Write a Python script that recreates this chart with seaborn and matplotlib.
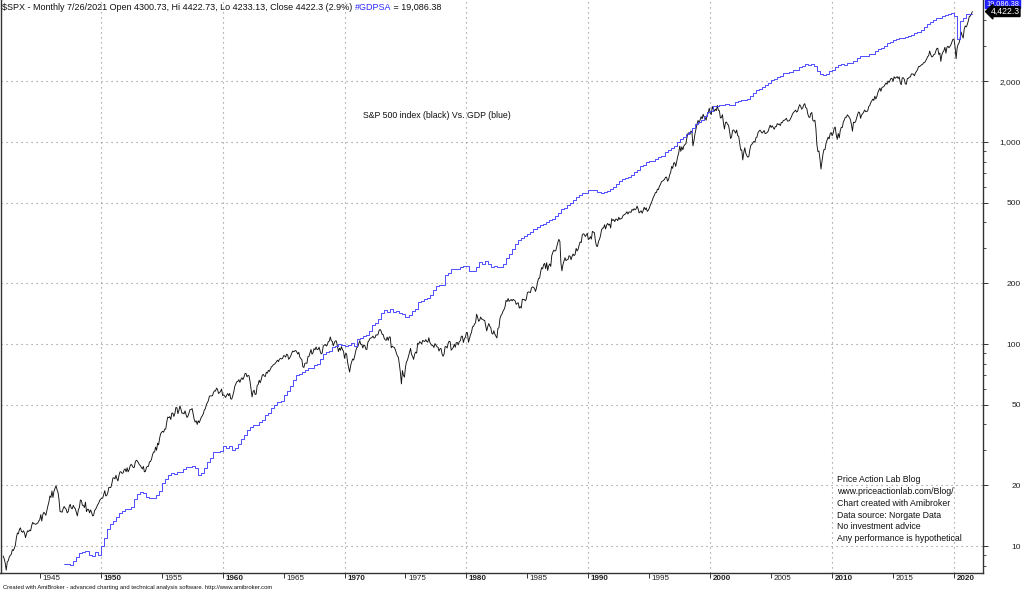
import numpy as np
import matplotlib
matplotlib.use("Agg")
import matplotlib.pyplot as plt
import matplotlib.transforms as mtransforms
from matplotlib.ticker import FixedLocator, FuncFormatter, NullFormatter, NullLocator
import seaborn as sns

# ---------------- data ----------------
# S&P 500 monthly closes, Jan 1942 .. Jul 2021
spx_1940s = [
    8.93, 8.65, 8.24, 7.60, 8.33, 8.46, 8.82, 9.00, 9.10, 9.60, 9.50, 9.77,
    10.1, 11.0, 11.6, 11.5, 12.1, 12.3, 11.8, 11.7, 11.9, 11.6, 11.0, 11.5,
    11.9, 11.8, 12.0, 11.9, 12.6, 13.1, 12.9, 12.9, 12.8, 12.9, 13.0, 13.3,
    13.5, 14.3, 13.3, 14.3, 14.7, 14.5, 14.2, 15.0, 15.8, 16.5, 17.7, 17.4,
    18.7, 17.4, 18.7, 19.3, 19.9, 19.0, 18.4, 16.9, 14.8, 14.8, 14.7, 15.3,
    15.7, 15.4, 15.2, 14.6, 14.8, 15.7, 16.1, 15.4, 15.3, 15.9, 15.5, 15.3,
    14.7, 14.1, 15.1, 15.5, 16.9, 16.8, 15.9, 15.9, 15.5, 16.5, 14.8, 15.2,
    15.2, 14.6, 15.1, 14.7, 14.1, 14.2, 15.0, 15.2, 15.6, 16.0, 16.3, 16.8,
]
spx_1950s = [
    17.1, 17.2, 17.3, 18.0, 18.8, 17.7, 17.8, 18.4, 19.5, 19.5, 19.5, 20.4,
    21.7, 21.8, 21.5, 22.4, 21.5, 21.0, 22.4, 23.3, 23.3, 22.9, 23.0, 23.8,
    24.1, 23.3, 24.4, 23.3, 23.9, 24.96, 25.4, 25.0, 24.5, 24.5, 26.0, 26.6,
    26.4, 25.9, 25.3, 25.0, 24.5, 24.1, 24.8, 23.3, 23.4, 24.5, 24.8, 24.8,
    26.1, 26.2, 26.9, 28.3, 29.2, 29.2, 30.9, 29.8, 32.3, 31.7, 34.2, 35.98,
    36.6, 37.0, 36.6, 37.96, 37.9, 41.0, 43.5, 43.2, 43.7, 42.3, 45.5, 45.5,
    43.8, 45.3, 48.5, 48.4, 45.2, 46.97, 49.4, 47.5, 45.4, 45.6, 45.1, 46.7,
    44.7, 43.3, 44.1, 45.7, 47.4, 47.4, 47.9, 45.2, 42.4, 41.1, 41.7, 39.99,
    41.7, 40.8, 42.1, 43.4, 44.1, 45.2, 47.2, 47.8, 50.1, 51.3, 52.5, 55.2,
    55.4, 55.4, 55.4, 57.6, 58.7, 58.5, 60.5, 59.6, 56.9, 57.5, 58.3, 59.9,
]
spx_1960s = [
    55.6, 56.1, 55.3, 54.4, 55.8, 56.9, 55.5, 56.96, 53.5, 53.4, 55.5, 58.1,
    61.8, 63.4, 65.1, 65.3, 66.6, 64.6, 66.8, 68.1, 66.7, 68.6, 71.3, 71.6,
    68.8, 69.96, 69.6, 65.2, 59.6, 54.75, 58.2, 59.1, 56.3, 56.5, 62.3, 63.1,
    66.2, 64.3, 66.6, 70.0, 70.8, 69.4, 69.1, 72.5, 71.7, 74.0, 73.2, 75.0,
    77.0, 77.8, 78.98, 79.5, 80.4, 81.7, 83.2, 81.8, 84.2, 84.9, 84.4, 84.75,
    87.6, 87.4, 86.2, 89.1, 88.4, 84.1, 85.3, 87.2, 89.96, 92.4, 91.6, 92.4,
    92.9, 91.2, 89.2, 91.1, 86.1, 84.7, 83.6, 77.1, 76.6, 80.2, 80.5, 80.3,
    86.6, 86.8, 90.2, 94.0, 89.1, 90.6, 94.8, 93.6, 96.7, 93.9, 94.0, 96.5,
    92.2, 89.4, 90.2, 97.6, 98.7, 99.6, 97.7, 98.9, 102.7, 103.4, 108.4, 103.9,
    103.0, 98.1, 101.5, 103.7, 103.5, 97.7, 91.8, 95.5, 93.1, 97.1, 93.8, 92.1,
]
spx_1970s = [
    85.0, 89.5, 89.6, 81.5, 76.6, 72.7, 78.1, 81.5, 84.3, 83.3, 87.2, 92.2,
    95.9, 96.8, 100.3, 103.9, 99.6, 99.7, 95.6, 99.0, 98.3, 94.2, 93.99, 102.1,
    103.9, 106.6, 107.2, 107.7, 109.5, 107.1, 107.4, 111.1, 110.6, 111.6, 116.7, 118.1,
    116.0, 111.7, 111.5, 106.97, 104.95, 104.3, 108.2, 104.25, 108.4, 108.3, 95.96, 97.55,
    96.6, 96.2, 93.98, 90.3, 87.3, 86.0, 79.3, 72.15, 63.5, 73.9, 69.97, 68.56,
    76.98, 81.6, 83.4, 87.3, 91.15, 95.2, 88.75, 86.9, 83.9, 89.0, 91.2, 90.2,
    100.9, 99.7, 102.8, 101.6, 100.2, 104.3, 103.4, 102.9, 105.2, 102.9, 102.1, 107.5,
    102.0, 99.8, 98.4, 98.4, 96.1, 100.5, 98.85, 96.8, 96.5, 92.3, 94.8, 95.1,
    89.25, 87.0, 89.2, 97.0, 97.2, 95.5, 100.7, 103.3, 102.5, 93.2, 94.7, 96.1,
    99.9, 96.3, 101.6, 101.8, 99.1, 102.9, 103.8, 109.3, 109.3, 101.8, 106.2, 107.9,
]
spx_1980s = [
    114.2, 113.7, 102.1, 106.3, 111.2, 114.2, 121.7, 122.4, 125.5, 127.5, 140.5, 135.8,
    129.6, 131.3, 136.0, 132.8, 132.6, 131.2, 130.9, 122.8, 116.2, 121.9, 126.35, 122.55,
    120.4, 113.1, 111.96, 116.4, 111.9, 109.6, 107.1, 119.5, 120.4, 133.7, 138.5, 140.6,
    145.3, 148.1, 152.96, 164.4, 162.4, 168.1, 162.6, 164.4, 166.1, 163.6, 166.4, 164.9,
    163.4, 157.1, 159.2, 160.05, 150.55, 153.2, 150.7, 166.7, 166.1, 166.1, 163.6, 167.2,
    179.6, 181.2, 180.7, 179.8, 189.55, 191.85, 190.9, 188.6, 182.1, 189.8, 202.2, 211.3,
    211.8, 226.9, 238.9, 235.5, 247.35, 250.8, 236.1, 252.9, 231.3, 243.98, 249.2, 242.2,
    274.1, 284.2, 291.7, 288.4, 290.1, 304.0, 318.7, 329.8, 321.8, 251.8, 230.3, 247.1,
    257.1, 267.8, 258.9, 261.3, 262.2, 273.5, 272.0, 261.5, 271.9, 278.97, 273.7, 277.7,
    297.5, 288.9, 294.9, 309.6, 320.5, 317.98, 346.1, 351.45, 349.15, 340.4, 345.99, 353.4,
]
spx_1990s = [
    329.1, 331.9, 339.9, 330.8, 361.2, 358.0, 356.2, 322.6, 306.05, 304.0, 322.2, 330.2,
    343.9, 367.1, 375.2, 375.3, 389.8, 371.2, 387.8, 395.4, 387.9, 392.5, 375.2, 417.1,
    408.8, 412.7, 403.7, 414.95, 415.35, 408.1, 424.2, 414.0, 417.8, 418.7, 431.35, 435.7,
    438.8, 443.4, 451.7, 440.2, 450.2, 450.5, 448.1, 463.6, 458.9, 467.8, 461.8, 466.45,
    481.6, 467.1, 445.8, 450.9, 456.5, 444.3, 458.3, 475.5, 462.7, 472.35, 453.7, 459.3,
    470.4, 487.4, 500.7, 514.7, 533.4, 544.75, 562.1, 561.9, 584.4, 581.5, 605.4, 615.9,
    636.0, 640.4, 645.5, 654.2, 669.1, 670.6, 639.95, 651.99, 687.3, 705.3, 757.0, 740.7,
    786.2, 791.0, 757.1, 801.3, 848.3, 885.1, 954.3, 899.5, 947.3, 914.6, 955.4, 970.4,
    980.3, 1049.3, 1101.75, 1111.75, 1090.8, 1133.8, 1120.7, 957.3, 1017.0, 1098.7, 1163.6, 1229.2,
    1279.6, 1238.3, 1286.4, 1335.2, 1301.8, 1372.7, 1328.7, 1320.4, 1282.7, 1362.9, 1388.9, 1469.25,
]
spx_2000s = [
    1394.5, 1366.4, 1498.6, 1452.4, 1420.6, 1454.6, 1430.8, 1517.7, 1436.5, 1429.4, 1315.2, 1320.3,
    1366.0, 1239.9, 1160.3, 1249.5, 1255.8, 1224.4, 1211.2, 1133.6, 1040.9, 1059.8, 1139.45, 1148.1,
    1130.2, 1106.7, 1147.4, 1076.9, 1067.1, 989.8, 911.6, 916.1, 815.3, 885.8, 936.3, 879.8,
    855.7, 841.2, 848.2, 916.9, 963.6, 974.5, 990.3, 1008.0, 995.97, 1050.7, 1058.2, 1111.9,
    1131.1, 1144.9, 1126.2, 1107.3, 1120.7, 1140.8, 1101.7, 1104.2, 1114.6, 1130.2, 1173.8, 1211.9,
    1181.3, 1203.6, 1180.6, 1156.85, 1191.5, 1191.3, 1234.2, 1220.3, 1228.8, 1207.0, 1249.5, 1248.3,
    1280.1, 1280.7, 1294.9, 1310.6, 1270.1, 1270.2, 1276.7, 1303.8, 1335.85, 1377.9, 1400.6, 1418.3,
    1438.2, 1406.8, 1420.9, 1482.4, 1530.6, 1503.35, 1455.3, 1473.99, 1526.75, 1549.4, 1481.1, 1468.4,
    1378.55, 1330.6, 1322.7, 1385.6, 1400.4, 1280.0, 1267.4, 1282.8, 1166.4, 968.75, 896.2, 903.25,
    825.9, 735.1, 797.9, 872.8, 919.1, 919.3, 987.5, 1020.6, 1057.1, 1036.2, 1095.6, 1115.1,
]
spx_2010s = [
    1073.9, 1104.5, 1169.4, 1186.7, 1089.4, 1030.7, 1101.6, 1049.3, 1141.2, 1183.3, 1180.55, 1257.6,
    1286.1, 1327.2, 1325.8, 1363.6, 1345.2, 1320.6, 1292.3, 1218.9, 1131.4, 1253.3, 1246.96, 1257.6,
    1312.4, 1365.7, 1408.5, 1397.9, 1310.3, 1362.2, 1379.3, 1406.6, 1440.7, 1412.2, 1416.2, 1426.2,
    1498.1, 1514.7, 1569.2, 1597.6, 1630.7, 1606.3, 1685.7, 1633.0, 1681.55, 1756.5, 1805.8, 1848.4,
    1782.6, 1859.45, 1872.3, 1883.95, 1923.6, 1960.2, 1930.7, 2003.4, 1972.3, 2018.05, 2067.6, 2058.9,
    1995.0, 2104.5, 2067.9, 2085.5, 2107.4, 2063.1, 2103.8, 1972.2, 1920.0, 2079.4, 2080.4, 2043.9,
    1940.2, 1932.2, 2059.7, 2065.3, 2096.95, 2098.9, 2173.6, 2170.95, 2168.3, 2126.15, 2199.0, 2238.8,
    2278.9, 2363.6, 2362.7, 2384.2, 2411.8, 2423.4, 2470.3, 2471.65, 2519.4, 2575.3, 2647.6, 2673.6,
    2823.8, 2713.8, 2640.9, 2648.05, 2705.3, 2718.4, 2816.3, 2901.5, 2913.98, 2711.7, 2760.2, 2506.85,
    2704.1, 2784.5, 2834.4, 2945.8, 2752.1, 2941.8, 2980.4, 2926.5, 2976.7, 3037.6, 3140.98, 3230.8,
]
spx_2020s = [
    3225.5, 2954.2, 2584.6, 2912.4, 3044.3, 3100.3, 3271.1, 3500.3, 3363.0, 3269.96, 3621.6, 3756.1,
    3714.2, 3811.2, 3972.9, 4181.2, 4204.1, 4297.5, 4422.3,
]
spx_first_year = 1942

# Real GDP (#GDPSA), quarterly, 1947Q1 .. 2021Q1
gdp_1940s = [2033, 2028, 2024, 2056, 2087, 2122, 2134, 2137, 2105, 2100, 2128, 2105]
gdp_1950s = [
    2184, 2252, 2340, 2384, 2417, 2453, 2502, 2515, 2538, 2541, 2563, 2646,
    2697, 2719, 2705, 2664, 2654, 2652, 2683, 2734, 2819, 2873, 2919, 2946,
    2932, 2955, 2953, 2993, 3015, 3011, 3031, 2998, 2918, 2935, 3000, 3070,
    3124, 3202, 3200, 3212,
]
gdp_1960s = [
    3278, 3260, 3276, 3234, 3254, 3309, 3373, 3438, 3501, 3540, 3569, 3574,
    3613, 3650, 3727, 3753, 3834, 3883, 3933, 3948, 4042, 4102, 4191, 4291,
    4384, 4405, 4440, 4478, 4517, 4519, 4557, 4589, 4674, 4774, 4807, 4830,
    4906, 4925, 4967, 4945,
]
gdp_1970s = [
    4942, 4946, 4995, 4941, 5069, 5098, 5139, 5152, 5246, 5366, 5416, 5507,
    5643, 5704, 5674, 5728, 5678, 5692, 5638, 5616, 5548, 5587, 5683, 5747,
    5893, 5937, 5970, 6012, 6083, 6200, 6313, 6314, 6333, 6579, 6649, 6741,
    6749, 6751, 6800, 6828,
]
gdp_1980s = [
    6837, 6696, 6689, 6813, 6948, 6896, 6979, 6903, 6795, 6826, 6800, 6803,
    6893, 7053, 7190, 7332, 7470, 7592, 7660, 7715, 7785, 7845, 7964, 8024,
    8092, 8127, 8185, 8248, 8292, 8385, 8467, 8608, 8664, 8782, 8835, 8945,
    9048, 9129, 9195, 9211,
]
gdp_1990s = [
    9306, 9334, 9332, 9249, 9203, 9253, 9291, 9336, 9447, 9559, 9658, 9754,
    9774, 9843, 9897, 10031, 10126, 10266, 10328, 10444, 10473, 10494, 10578, 10637,
    10688, 10866, 10953, 11078, 11168, 11352, 11485, 11584, 11724, 11818, 11982, 12186,
    12303, 12408, 12572, 12809,
]
gdp_2000s = [
    12843, 13102, 13108, 13189, 13158, 13224, 13173, 13195, 13322, 13392, 13449, 13467,
    13526, 13650, 13860, 13994, 14082, 14194, 14299, 14419, 14566, 14641, 14756, 14830,
    14992, 15031, 15042, 15162, 15216, 15349, 15453, 15566, 15491, 15584, 15447, 15123,
    14956, 14902, 14965, 15131,
]
gdp_2010s = [
    15198, 15356, 15493, 15563, 15515, 15612, 15615, 15786, 15974, 16063, 16111, 16102,
    16226, 16231, 16411, 16575, 16636, 16775, 16930, 17012, 17154, 17249, 17281, 17295,
    17374, 17438, 17536, 17637, 17769, 17908, 18122, 18326, 18452, 18596, 18758, 18816,
    18903, 19006, 19112, 19203,
]
gdp_2020s = [18952, 17259, 18561, 18768, 19086.38]
gdp_first_year = 1947

y_major = [10, 20, 50, 100, 200, 500, 1000, 2000]
y_minor = [8, 9, 30, 40, 60, 70, 80, 90, 300, 400, 600, 700, 800, 900, 3000, 4000]
x_decades = [1950, 1960, 1970, 1980, 1990, 2000, 2010, 2020]
x_halves = [1945, 1955, 1965, 1975, 1985, 1995, 2005, 2015]

title_black = ("$SPX - Monthly 7/26/2021 Open 4300.73, Hi 4422.73, "
               "Lo 4233.13, Close 4422.3 (2.9%) ")
title_blue = "#GDPSA"
title_tail = " = 19,086.38"
note_mid = "S&P 500 index (black) Vs. GDP (blue)"
note_lines = ["Price Action Lab Blog", "www.priceactionlab.com/Blog/",
              "Chart created with Amibroker", "Data source: Norgate Data",
              "No investment advice", "Any performance is hypothetical"]
footer = ("Created with AmiBroker - advanced charting and technical analysis "
          "software. http://www.amibroker.com")

# ---------------- build series ----------------
spx = np.array(spx_1940s + spx_1950s + spx_1960s + spx_1970s + spx_1980s
               + spx_1990s + spx_2000s + spx_2010s + spx_2020s, dtype=float)
spx_x = spx_first_year + np.arange(len(spx)) / 12.0
gdp = np.array(gdp_1940s + gdp_1950s + gdp_1960s + gdp_1970s + gdp_1980s
               + gdp_1990s + gdp_2000s + gdp_2010s + gdp_2020s, dtype=float)
gdp_x = gdp_first_year + np.arange(len(gdp)) / 4.0
# carry the last reported quarter to the last monthly bar (step display)
gdp_x_step = np.append(gdp_x, spx_x[-1])
gdp_step = np.append(gdp, gdp[-1])

# ---------------- figure ----------------
sns.set_theme(style="white")
plt.rcParams["font.family"] = ["Liberation Sans", "DejaVu Sans"]

W, H = 1024, 592
fig = plt.figure(figsize=(W / 100, H / 100), dpi=100)
fig.patch.set_facecolor("white")
ax_bottom_px = 573.3
ax_right_px = 982.7
ax = fig.add_axes([0.5 / W, (H - ax_bottom_px) / H, (ax_right_px - 0.5) / W, ax_bottom_px / H])
ax.set_facecolor("white")

ax.set_yscale("log")
sns.lineplot(x=spx_x, y=spx, ax=ax, color="#111111", linewidth=0.65,
             estimator=None, sort=False)
ax.set_xlim(1941.78, 2022.35)
ax.set_ylim(7.33, 5047)

ax2 = ax.twinx()
ax2.set_yscale("log")
sns.lineplot(x=gdp_x_step, y=gdp_step, ax=ax2, color="#4040ff", linewidth=0.65,
             drawstyle="steps-post", estimator=None, sort=False)
ax2.set_ylim(1954, 20208)
ax2.yaxis.set_major_locator(NullLocator())
ax2.yaxis.set_minor_locator(NullLocator())
for s in ax2.spines.values():
    s.set_visible(False)
ax2.set_ylabel("")

# y axis on the right
ax.yaxis.tick_right()
ax.yaxis.set_major_locator(FixedLocator(y_major))
ax.yaxis.set_major_formatter(FuncFormatter(lambda v, p: f"{v:,.0f}"))
ax.yaxis.set_minor_locator(FixedLocator(y_minor))
ax.yaxis.set_minor_formatter(NullFormatter())
ax.tick_params(axis="y", which="major", direction="out", length=3.6, width=0.7,
               color="#333333", pad=24, labelsize=6.0, labelcolor="#222222",
               right=True, left=False)
ax.tick_params(axis="y", which="minor", direction="out", length=2.0, width=0.6,
               color="#333333", right=True, left=False)
for lbl in ax.get_yticklabels():
    lbl.set_horizontalalignment("right")

# x axis
ax.xaxis.set_major_locator(FixedLocator(x_decades))
ax.xaxis.set_major_formatter(FuncFormatter(lambda v, p: f"{int(round(v))}"))
ax.xaxis.set_minor_locator(FixedLocator(x_halves))
ax.xaxis.set_minor_formatter(FuncFormatter(lambda v, p: f"{int(round(v))}"))
ax.tick_params(axis="x", which="both", direction="out", length=3.6, width=0.7,
               color="#333333", pad=-2.6, labelsize=5.8, labelcolor="#222222",
               bottom=True, top=False)
off = mtransforms.ScaledTranslation(2.5 / 100, 0, fig.dpi_scale_trans)
for lbl in ax.get_xticklabels(which="major"):
    lbl.set_horizontalalignment("left")
    lbl.set_fontweight("bold")
    lbl.set_transform(lbl.get_transform() + off)
for lbl in ax.get_xticklabels(which="minor"):
    lbl.set_horizontalalignment("left")
    lbl.set_transform(lbl.get_transform() + off)

ax.set_xlabel("")
ax.set_ylabel("")
ax.grid(True, which="major", axis="both", linestyle=(0, (1, 3.5)),
        color="#8a8a8a", linewidth=0.8)
ax.grid(False, which="minor")
ax.set_axisbelow(True)

for name in ["left", "bottom", "right"]:
    ax.spines[name].set_visible(True)
    ax.spines[name].set_color("#333333")
    ax.spines[name].set_linewidth(1.0)
ax.spines["top"].set_visible(False)


def fx(px):
    return px / W


def fy(py):
    return 1 - py / H


# header text
fig.canvas.draw()
renderer = fig.canvas.get_renderer()
t1 = fig.text(fx(2), fy(7), title_black, fontsize=6.5, color="#111111", va="center", ha="left")
bb = t1.get_window_extent(renderer)
t2 = fig.text(bb.x1 / W, fy(7), title_blue, fontsize=6.5, color="#2b2bff", va="center", ha="left")
bb2 = t2.get_window_extent(renderer)
fig.text(bb2.x1 / W, fy(7), title_tail, fontsize=6.5, color="#111111", va="center", ha="left")

# annotations
fig.text(fx(363), fy(116), note_mid, fontsize=6.3, color="#111111", va="center", ha="left")
for i, line in enumerate(note_lines):
    fig.text(fx(837), fy(480 + i * 11.7), line, fontsize=6.3, color="#111111",
             va="center", ha="left")
fig.text(fx(3), fy(588), footer, fontsize=4.2, color="#111111", va="center", ha="left")

# last-value labels on the right axis (black one drawn on top)
ax2.text(1.0035, 1.0 - 3.6 / ax_bottom_px, f"{gdp[-1]:,.2f}", transform=ax2.transAxes,
         fontsize=5.3, color="white", va="center", ha="left", clip_on=False, zorder=5,
         bbox=dict(boxstyle="square,pad=0.1", facecolor="#1f1fff", edgecolor="#1f1fff"))
trans_black = mtransforms.blended_transform_factory(ax.transAxes, ax.transData)
ax2.text(1.008, spx[-1], f"{spx[-1]:,.1f}", transform=trans_black, fontsize=6.2,
         color="white", va="center", ha="left", clip_on=False, zorder=6,
         bbox=dict(boxstyle="larrow,pad=0.05", facecolor="black", edgecolor="black"))

fig.savefig("out.png", dpi=100, facecolor="white")
